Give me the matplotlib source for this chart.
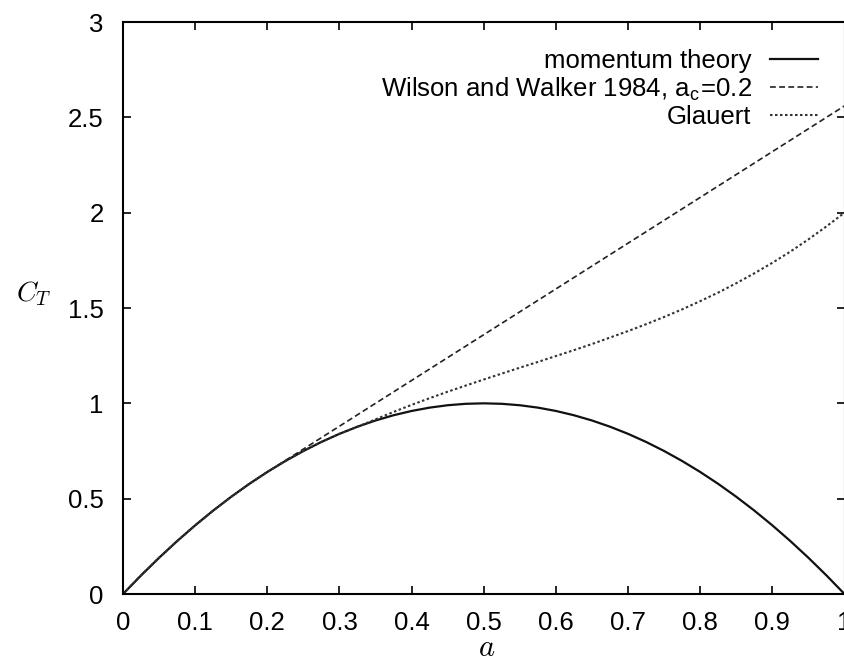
import matplotlib
matplotlib.use("Agg")
import matplotlib.pyplot as plt

# a values (0.025 steps)
a_vals = [0.0, 0.025, 0.05, 0.075, 0.1, 0.125, 0.15, 0.175, 0.2, 0.225, 0.25, 0.275,
          0.3, 0.325, 0.35, 0.375, 0.4, 0.425, 0.45, 0.475, 0.5, 0.525, 0.55, 0.575,
          0.6, 0.625, 0.65, 0.675, 0.7, 0.725, 0.75, 0.775, 0.8, 0.825, 0.85, 0.875,
          0.9, 0.925, 0.95, 0.975, 1.0]

ct_momentum = [0.0, 0.0975, 0.19, 0.2775, 0.36, 0.4375, 0.51, 0.5775, 0.64, 0.6975, 0.75, 0.7975,
               0.84, 0.8775, 0.91, 0.9375, 0.96, 0.9775, 0.99, 0.9975, 1.0, 0.9975, 0.99, 0.9775,
               0.96, 0.9375, 0.91, 0.8775, 0.84, 0.7975, 0.75, 0.6975, 0.64, 0.5775, 0.51, 0.4375,
               0.36, 0.2775, 0.19, 0.0975, 0.0]

ct_wilson = [0.0, 0.0975, 0.19, 0.2775, 0.36, 0.4375, 0.51, 0.5775, 0.64, 0.70, 0.76, 0.82,
             0.88, 0.94, 1.00, 1.06, 1.12, 1.18, 1.24, 1.30, 1.36, 1.42, 1.48, 1.54,
             1.60, 1.66, 1.72, 1.78, 1.84, 1.90, 1.96, 2.02, 2.08, 2.14, 2.20, 2.26,
             2.32, 2.38, 2.44, 2.50, 2.56]

ct_glauert = [0.0, 0.0975, 0.19, 0.2775, 0.36, 0.4375, 0.51, 0.5775, 0.64, 0.6975, 0.75, 0.7975,
              0.84, 0.8775, 0.916, 0.955, 0.992, 1.027, 1.061, 1.093, 1.125, 1.156, 1.187, 1.217,
              1.248, 1.279, 1.311, 1.345, 1.379, 1.415, 1.453, 1.493, 1.536, 1.581, 1.630, 1.682,
              1.737, 1.796, 1.860, 1.928, 2.0]

labels = ["momentum theory", r"Wilson and Walker 1984, a$_\mathregular{c}$=0.2", "Glauert"]
x_ticks = [0, 0.1, 0.2, 0.3, 0.4, 0.5, 0.6, 0.7, 0.8, 0.9, 1]
x_ticklabels = ["0", "0.1", "0.2", "0.3", "0.4", "0.5", "0.6", "0.7", "0.8", "0.9", "1"]
y_ticks = [0, 0.5, 1, 1.5, 2, 2.5, 3]
y_ticklabels = ["0", "0.5", "1", "1.5", "2", "2.5", "3"]

plt.rcParams['font.family'] = ['Liberation Sans', 'DejaVu Sans']
plt.rcParams['mathtext.fontset'] = 'cm'

W, H = 844, 662
fig = plt.figure(figsize=(W / 100, H / 100), dpi=100)
L, R, T, B = 123, 844.5, 22, 594
ax = fig.add_axes([L / W, 1 - B / H, (R - L) / W, (B - T) / H])

l1, = ax.plot(a_vals, ct_momentum, color='#111111', lw=1.6, ls='-')
l2, = ax.plot(a_vals, ct_wilson, color='#222222', lw=1.2, ls=(0, (3.5, 2)))
l3, = ax.plot(a_vals, ct_glauert, color='#333333', lw=1.5, ls=(0, (1.2, 1.2)))

ax.set_xlim(0, 1)
ax.set_ylim(0, 3)
ax.set_xticks(x_ticks)
ax.set_xticklabels(x_ticklabels)
ax.set_yticks(y_ticks)
ax.set_yticklabels(y_ticklabels)
ax.tick_params(direction='in', length=6, width=1.2, top=True, right=True,
               labelsize=18.5, colors='black')
ax.tick_params(axis='x', pad=12)
ax.tick_params(axis='y', pad=14)
for s in ax.spines.values():
    s.set_linewidth(1.5)
    s.set_color('black')

fig.text(487 / W, 1 - 648 / H, r"$a$", fontsize=22, ha='center', va='center')
fig.text(34 / W, 1 - 294 / H, r"$C_T$", fontsize=20, ha='center', va='center')

leg = ax.legend([l1, l2, l3], labels, loc='upper right', bbox_to_anchor=(0.978, 0.971),
                markerfirst=False, frameon=False, fontsize=18.5, handlelength=1.9,
                handletextpad=0.7, labelspacing=0.1, borderaxespad=0)
for t in leg.get_texts():
    t.set_ha('right')

fig.savefig("out.png", dpi=100)
